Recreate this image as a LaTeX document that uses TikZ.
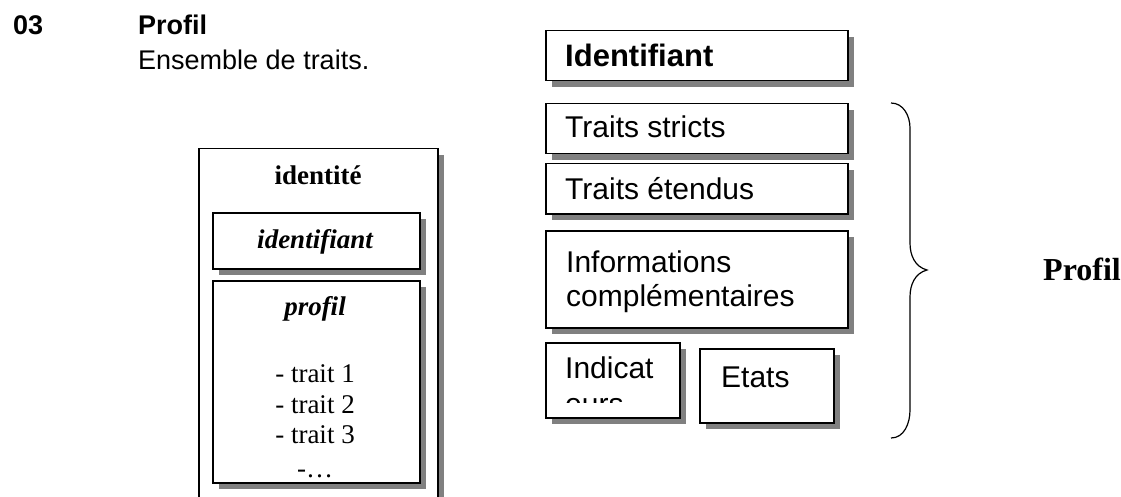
\documentclass[tikz,border=0pt]{standalone}
\usepackage{fontspec}
\setmainfont{Liberation Serif}
\newfontfamily\arialsans{Liberation Sans}
\usetikzlibrary{shadows}

\tikzset{
  shbox/.style={draw, line width=1.5pt, fill=white, inner sep=0pt, anchor=north west,
    drop shadow={shadow xshift=6pt, shadow yshift=-6pt, fill=black!50, opacity=1}},
  lbl/.style={inner sep=0pt}
}

\begin{document}
\begin{tikzpicture}[x=1pt,y=-1pt]
\useasboundingbox (0,0) rectangle (1121,497);
\clip (0,0) rectangle (1121,497);

% heading
\node[lbl,anchor=base west] (num) at (13,35) {\arialsans\bfseries\fontsize{27}{30}\selectfont 03};
\node[lbl,anchor=base west] (titre) at (138,35) {\arialsans\bfseries\fontsize{27}{30}\selectfont Profil};
\node[lbl,anchor=base west] (sstitre) at (138,70) {\arialsans\fontsize{27}{30}\selectfont Ensemble de traits.};

% left block
\node[shbox, minimum width=239, minimum height=372] (ident) at (198,148) {};
\node[shbox, minimum width=207, minimum height=56] (idf) at (212,212) {};
\node[shbox, minimum width=207, minimum height=202] (prof) at (212,280) {};

\node[lbl,anchor=base] (tident) at (318,185) {\fontsize{27}{30}\selectfont\bfseries identité};
\node[lbl,anchor=base] (tidf) at (315,248) {\fontsize{27}{30}\selectfont\bfseries\itshape identifiant};
\node[lbl,anchor=base] (tprof) at (315,315) {\fontsize{27}{30}\selectfont\bfseries\itshape profil};
\foreach \i/\y in {1/382,2/413,3/443}
  \node[lbl,anchor=base] (trait\i) at (315,\y) {\fontsize{27}{30}\selectfont - trait \i};
\node[lbl,anchor=base] (etc) at (315,477) {\fontsize{27}{30}\selectfont -\ldots};

% right block
\node[shbox, minimum width=302, minimum height=50] (idbox) at (545,30) {};
\node[shbox, minimum width=302, minimum height=50] (strict) at (545,103) {};
\node[shbox, minimum width=302, minimum height=50] (etendu) at (545,163) {};
\node[shbox, minimum width=302, minimum height=97] (info) at (545,230) {};
\node[shbox, minimum width=134, minimum height=75] (indic) at (545,342) {};
\node[shbox, minimum width=134, minimum height=74] (etats) at (699,348) {};

\node[lbl,anchor=base west] (tidbox) at (565,67) {\arialsans\bfseries\fontsize{31}{34}\selectfont Identifiant};
\node[lbl,anchor=base west] (tstrict) at (565,138) {\arialsans\fontsize{30}{34}\selectfont Traits stricts};
\node[lbl,anchor=base west] (tetendu) at (565,200) {\arialsans\fontsize{30}{34}\selectfont Traits étendus};
\node[lbl,anchor=base west] (tinfo1) at (566,272) {\arialsans\fontsize{30}{34}\selectfont Informations};
\node[lbl,anchor=base west] (tinfo2) at (566,306) {\arialsans\fontsize{30}{34}\selectfont complémentaires};
\begin{scope}
\clip (547,344) rectangle (677,402);
\node[lbl,anchor=base west] (tindic1) at (565,378) {\arialsans\fontsize{30}{34}\selectfont Indicat};
\node[lbl,anchor=base west] (tindic2) at (565,414) {\arialsans\fontsize{30}{34}\selectfont eurs};
\end{scope}
\node[lbl,anchor=base west] (tetats) at (721,387) {\arialsans\fontsize{30}{34}\selectfont Etats};

% brace
\coordinate (b1) at (891,103);
\coordinate (b2) at (910,128);
\coordinate (b3) at (910,243);
\coordinate (tip) at (927,270);
\coordinate (b4) at (910,297);
\coordinate (b5) at (910,410);
\coordinate (b6) at (891,438);

\draw[line width=1.2pt] (b1)
to[out=0,in=90] (b2) -- (b3)
to[out=-90,in=165] (tip)
to[out=195,in=90] (b4) -- (b5)
to[out=-90,in=0] (b6);

\node[lbl,anchor=base west] (tprofil) at (1043,280) {\fontsize{32}{34}\selectfont\bfseries Profil};
\end{tikzpicture}
\end{document}
